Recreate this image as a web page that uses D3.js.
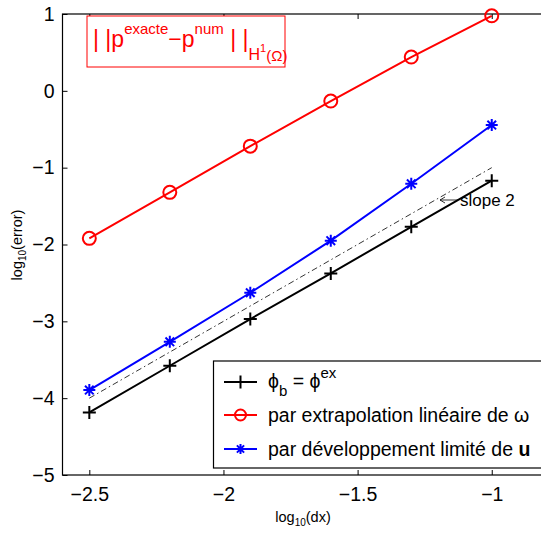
<!DOCTYPE html>
<html><head><meta charset="utf-8">
<script src="https://cdn.jsdelivr.net/npm/d3@7"></script>
<style>body{margin:0;background:#fff}svg{display:block}text{font-family:"Liberation Sans",Arial,sans-serif}</style>
</head><body>
<script>
const xValues = [-2.5, -2.2, -1.9, -1.6, -1.3, -1.0];
const exactBC = [-4.185, -3.578, -2.97, -2.376, -1.77, -1.17];
const extrapOmega = [-1.92, -1.321, -0.72, -0.133, 0.44, 0.977];
const devLimU = [-3.894, -3.266, -2.628, -1.95, -1.21, -0.445];
const slopeRef = [[-2.5, -4], [-1.0, -1]];
const xTicks = [-2.5, -2, -1.5, -1];
const yTicks = [1, 0, -1, -2, -3, -4, -5];

const W = 541, H = 533;
const svg = d3.select("body").append("svg").attr("width", W).attr("height", H);
const x = d3.scaleLinear().domain([-2.6, -0.8]).range([62.5, 545.4]);
const y = d3.scaleLinear().domain([-5, 1]).range([475, 14]);
const fmt = d => (d < 0 ? "\u2212" : "") + Math.abs(d);

const g = svg.append("g");
g.append("rect").attr("x", x(-2.6)).attr("y", y(1)).attr("width", x(-0.8) - x(-2.6)).attr("height", y(-5) - y(1))
  .attr("fill", "none").attr("stroke", "#000").attr("stroke-width", 1.2);

const xAxis = d3.axisBottom(x).tickValues(xTicks).tickSize(-5).tickPadding(12).tickFormat(fmt);
const gx = g.append("g").attr("transform", `translate(0,${y(-5)})`).call(xAxis);
const yAxis = d3.axisLeft(y).tickValues(yTicks).tickSize(-5).tickPadding(8).tickFormat(fmt);
const gy = g.append("g").attr("transform", `translate(${x(-2.6)},0)`).call(yAxis);
const xAxisTop = d3.axisTop(x).tickValues(xTicks).tickSize(-5).tickFormat("");
const gt = g.append("g").attr("transform", `translate(0,${y(1)})`).call(xAxisTop);
[gx, gy, gt].forEach(a => {
  a.select(".domain").remove();
  a.selectAll("line").attr("stroke", "#000").attr("stroke-width", 1);
  a.selectAll("text").attr("font-size", 19.5).attr("fill", "#000").attr("font-family", "Liberation Sans, Arial, sans-serif");
});

svg.append("path").attr("d", d3.line().x(d => x(d[0])).y(d => y(d[1]))(slopeRef))
  .attr("stroke", "#000").attr("stroke-width", 0.8).attr("fill", "none").attr("stroke-dasharray", "6,3,1.5,3");

const line = d3.line().x((d, i) => x(xValues[i])).y(d => y(d));
function plus(sel, s) { sel.append("path").attr("d", `M${-s},0H${s}M0,${-s}V${s}`); }
function star(sel, s) {
  const d = s * 0.72;
  sel.append("path").attr("d", `M${-s},0H${s}M0,${-s}V${s}M${-d},${-d}L${d},${d}M${-d},${d}L${d},${-d}`);
}
function series(vals, color, marker) {
  svg.append("path").attr("d", line(vals)).attr("stroke", color).attr("stroke-width", 2).attr("fill", "none");
  const m = svg.append("g").selectAll("g").data(vals).join("g")
    .attr("transform", (d, i) => `translate(${x(xValues[i])},${y(d)})`)
    .attr("stroke", color).attr("stroke-width", 2).attr("fill", "none");
  m.each(function () { marker(d3.select(this)); });
}
const mkPlus = s => plus(s, 6.5);
const mkCircle = s => s.append("circle").attr("r", 6.5);
const mkStar = s => star(s, 6);
series(exactBC, "#000", mkPlus);
series(extrapOmega, "#ff0000", mkCircle);
series(devLimU, "#0000ff", mkStar);

// slope annotation
svg.append("path").attr("d", "M458,200H440M445,197L440,200L445,203").attr("stroke", "#000").attr("stroke-width", 0.8).attr("fill", "none");
svg.append("text").attr("x", 460).attr("y", 206).attr("font-size", 17).text("slope 2");

// title box
const tb = svg.append("g");
tb.append("rect").attr("x", 87).attr("y", 16).attr("width", 198).attr("height", 51)
  .attr("fill", "#fff").attr("stroke", "#ff0000").attr("stroke-width", 1);
const tt = tb.append("text").attr("x", 93).attr("y", 47).attr("fill", "#ff0000").attr("font-size", 23);
tt.append("tspan").text("| |p");
tt.append("tspan").attr("font-size", 15).attr("dy", -13).text("exacte");
tt.append("tspan").attr("dy", 13).text("\u2212p");
tt.append("tspan").attr("font-size", 15).attr("dy", -13).text("num");
tt.append("tspan").attr("dy", 13).text(" | |");
tt.append("tspan").attr("font-size", 16).attr("dy", 13).text("H");
tt.append("tspan").attr("font-size", 11).attr("dy", -8).text("1");
tt.append("tspan").attr("font-size", 15).attr("dy", 9).text("(\u03A9)");

// legend
const lg = svg.append("g");
lg.append("rect").attr("x", 213.5).attr("y", 361).attr("width", 340).attr("height", 107)
  .attr("fill", "#fff").attr("stroke", "#000").attr("stroke-width", 1.2);
const rows = [
  {c: "#000", m: mkPlus, y: 382},
  {c: "#ff0000", m: s => s.append("circle").attr("r", 5.5), y: 415},
  {c: "#0000ff", m: s => star(s, 5), y: 449}
];
rows.forEach(r => {
  lg.append("line").attr("x1", 224).attr("x2", 257).attr("y1", r.y).attr("y2", r.y).attr("stroke", r.c).attr("stroke-width", 2);
  const m = lg.append("g").attr("transform", `translate(240.5,${r.y})`).attr("stroke", r.c).attr("stroke-width", 2).attr("fill", "none");
  r.m(m);
});
const t1 = lg.append("text").attr("x", 268).attr("y", 388).attr("font-size", 19.5);
t1.append("tspan").text("\u03D5");
t1.append("tspan").attr("font-size", 15).attr("dy", 8).text("b");
t1.append("tspan").attr("dy", -8).text(" = \u03D5");
t1.append("tspan").attr("font-size", 15).attr("dy", -10).text("ex");
lg.append("text").attr("x", 268).attr("y", 422).attr("font-size", 19.5).text("par extrapolation linéaire de \u03C9");
const t3 = lg.append("text").attr("x", 268).attr("y", 456).attr("font-size", 19.5);
t3.append("tspan").text("par développement limité de ");
t3.append("tspan").attr("font-weight", "bold").text("u");

// axis labels
const xl = svg.append("text").attr("x", 303).attr("y", 522).attr("text-anchor", "middle").attr("font-size", 14.5);
xl.append("tspan").text("log");
xl.append("tspan").attr("font-size", 10).attr("dy", 4).text("10");
xl.append("tspan").attr("dy", -4).text("(dx)");
const yl = svg.append("text").attr("transform", "translate(22,245) rotate(-90)").attr("text-anchor", "middle").attr("font-size", 14.5);
yl.append("tspan").text("log");
yl.append("tspan").attr("font-size", 10).attr("dy", 4).text("10");
yl.append("tspan").attr("dy", -4).text("(error)");
</script>
</body></html>
